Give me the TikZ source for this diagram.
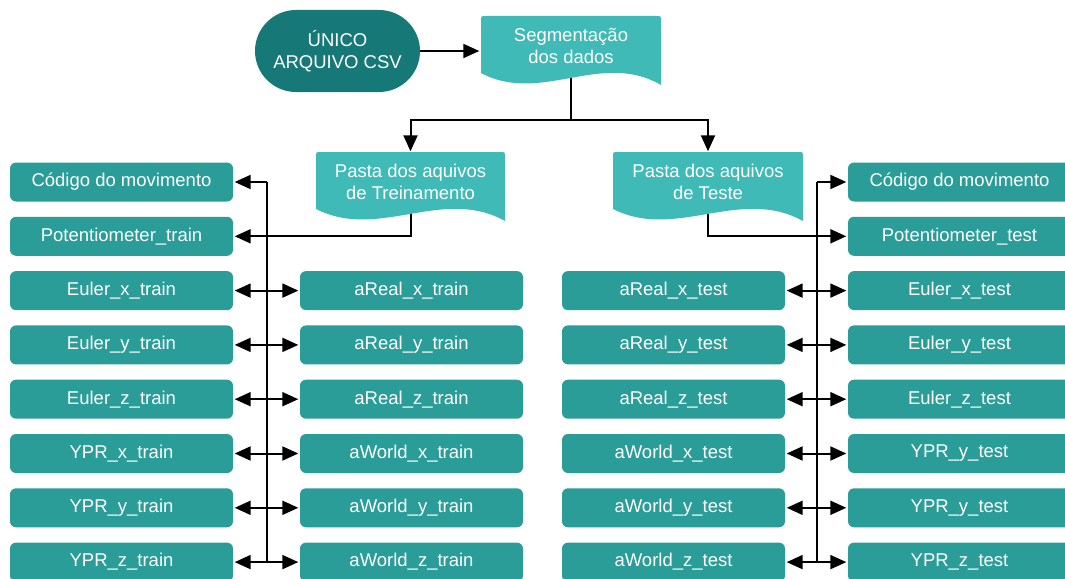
\documentclass[tikz,border=0pt]{standalone}
\usepackage{fontspec}
\setmainfont{Liberation Sans}
\usetikzlibrary{arrows.meta,backgrounds}
\definecolor{csvc}{RGB}{22,121,119}
\definecolor{boxc}{RGB}{42,157,153}
\definecolor{docc}{RGB}{64,186,182}
\tikzset{
  txt/.style={text=white,font=\fontsize{18.5}{22}\selectfont,align=center,inner sep=0pt},
  box/.style={txt,rectangle,rounded corners=6pt,fill=boxc,minimum width=223pt,minimum height=39pt},
  doctxt/.style={txt,rectangle,minimum height=57pt},
  arr/.style={line width=2pt,-{Triangle[length=16pt 0,width=14pt 0]},shorten >=1.5pt},
  ln/.style={line width=2pt},
}
\newcommand{\docfill}[3]{% x0, x1, top
  \pgfmathsetmacro{\dxa}{#1+(#2-#1)/3}
  \pgfmathsetmacro{\dxb}{#1+(#2-#1)*2/3}
  \fill[docc] (#1,#3+57) -- (#1,#3+5) .. controls (#1,#3) .. (#1+5,#3) -- (#2-5,#3)
  .. controls (#2,#3) .. (#2,#3+5) -- (#2,#3+69)
  .. controls (\dxb,#3+34) and (\dxa,#3+89) .. (#1,#3+57) -- cycle;}
\begin{document}
\begin{tikzpicture}[x=1pt,y=-1pt]
\useasboundingbox (0,0) rectangle (1065,578);
% document shapes
\docfill{481}{661}{16}
\docfill{316}{505}{152}
\docfill{613}{803}{152}
\node[txt,rectangle,rounded corners=41pt,fill=csvc,minimum width=165pt,minimum height=82pt] (csv) at (337.5,51) {ÚNICO\\ARQUIVO CSV};
\node[doctxt,minimum width=180pt] (seg) at (571,46) {Segmentação\\dos dados};
\node[doctxt,minimum width=189pt] (trn) at (410.5,181.5) {Pasta dos aquivos\\de Treinamento};
\node[doctxt,minimum width=190pt] (tst) at (708,181.5) {Pasta dos aquivos\\de Teste};
% left column
\foreach \n/\t [count=\i] in {L1/Código do movimento,L2/Potentiometer\_train,L3/Euler\_x\_train,L4/Euler\_y\_train,L5/Euler\_z\_train,L6/YPR\_x\_train,L7/YPR\_y\_train,L8/YPR\_z\_train}
  \node[box] (\n) at (121.5,{182+54.3*(\i-1)}) {\t};
\foreach \n/\t [count=\i from 3] in {A3/aReal\_x\_train,A4/aReal\_y\_train,A5/aReal\_z\_train,A6/aWorld\_x\_train,A7/aWorld\_y\_train,A8/aWorld\_z\_train}
  \node[box] (\n) at (411.5,{182+54.3*(\i-1)}) {\t};
\foreach \n/\t [count=\i from 3] in {B3/aReal\_x\_test,B4/aReal\_y\_test,B5/aReal\_z\_test,B6/aWorld\_x\_test,B7/aWorld\_y\_test,B8/aWorld\_z\_test}
  \node[box] (\n) at (673.5,{182+54.3*(\i-1)}) {\t};
\foreach \n/\t [count=\i] in {R1/Código do movimento,R2/Potentiometer\_test,R3/Euler\_x\_test,R4/Euler\_y\_test,R5/Euler\_z\_test,R6/YPR\_y\_test,R7/YPR\_y\_test,R8/YPR\_z\_test}
  \node[box] (\n) at (959.5,{182+54.3*(\i-1)}) {\t};
\coordinate (tl) at (267,0);
\coordinate (tr) at (817,0);
\coordinate (hub) at (571,120);
\begin{pgfonlayer}{background}
\draw[arr] (csv.east) -- (csv.east -| seg.west);
\draw[ln] (seg.south) -- (hub);
\draw[arr] (hub) -| (trn.north);
\draw[arr] (hub) -| (tst.north);
\draw[ln] (tl |- L1) -- (tl |- L8);
\draw[ln] (tr |- R1) -- (tr |- R8);
\draw[arr] (tl |- L1) -- (L1.east);
\draw[arr] (tr |- R1) -- (R1.west);
\draw[arr] (trn.south) |- (L2.east);
\draw[arr] (tst.south) |- (R2.west);
\foreach \i in {3,...,8}{
  \draw[arr] (tl |- L\i) -- (L\i.east);
  \draw[arr] (tl |- A\i) -- (A\i.west);
  \draw[arr] (tr |- B\i) -- (B\i.east);
  \draw[arr] (tr |- R\i) -- (R\i.west);
}
\end{pgfonlayer}
\end{tikzpicture}
\end{document}
